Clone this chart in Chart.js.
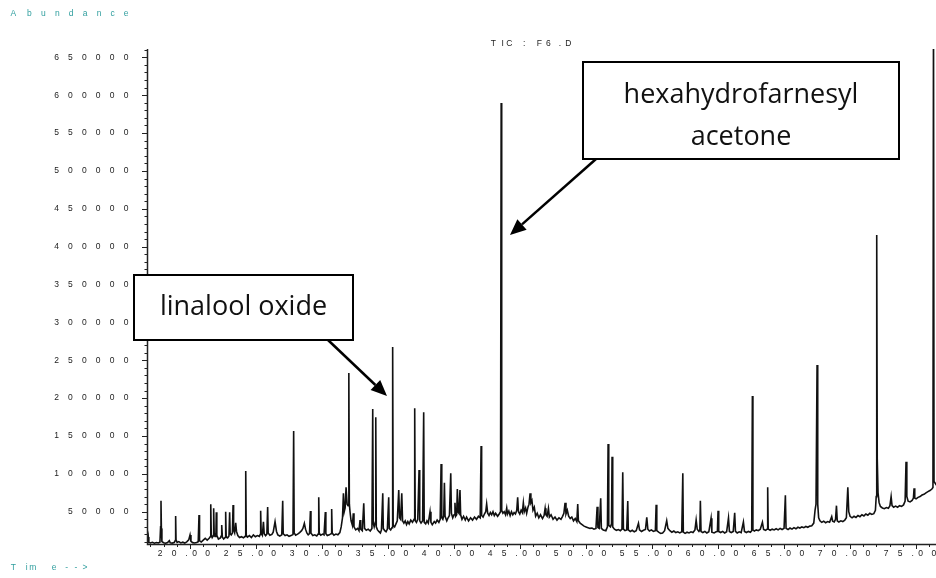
<!DOCTYPE html>
<html>
<head>
<meta charset="utf-8">
<title>TIC: F6.D</title>
<script src="https://cdn.jsdelivr.net/npm/chart.js@4.4.1/dist/chart.umd.min.js"></script>
<style>
  html, body { margin: 0; padding: 0; background: #fff; }
  #wrap { width: 936px; height: 578px; position: relative; }
</style>
</head>
<body>
<div id="wrap"><canvas id="ticChart" width="936" height="578"></canvas></div>
<script>
// Total ion chromatogram, [retention time (min), abundance]
var tic17to25 = [
  [16.74, 9000], [16.79, 10500], [16.84, 16600], [16.88, 9500], [17.0, 8800], [17.15, 9600], [17.3, 8500],
  [17.45, 9400], [17.6, 8700], [17.72, 9800], [17.77, 30000], [17.80, 64600], [17.83, 28000], [17.87, 10500],
  [18.0, 9000], [18.15, 8400], [18.3, 9300], [18.43, 11800], [18.5, 9000], [18.65, 8600], [18.8, 9400],
  [18.88, 12000], [18.91, 44400], [18.94, 13000], [19.02, 9500], [19.15, 10600], [19.3, 8800], [19.45, 9800],
  [19.6, 8600], [19.75, 10200], [19.9, 12800], [20.0, 19300], [20.07, 11000], [20.2, 9200], [20.35, 8700],
  [20.5, 9500], [20.62, 10500], [20.68, 45700], [20.72, 11500], [20.85, 10000], [21.0, 12500], [21.15, 14800],
  [21.3, 12600], [21.45, 15000], [21.53, 17000], [21.57, 59800], [21.61, 20000], [21.68, 16000], [21.75, 18000],
  [21.79, 54500], [21.83, 22000], [21.9, 17500], [21.96, 20000], [21.99, 49200], [22.03, 19000], [22.15, 14000],
  [22.3, 15500], [22.36, 18000], [22.40, 32500], [22.45, 16500], [22.55, 14000], [22.65, 16000], [22.70, 50000],
  [22.74, 17000], [22.85, 15500], [22.95, 18000], [23.0, 49200], [23.04, 21000], [23.12, 19500], [23.21, 22000],
  [23.26, 58900], [23.3, 26000], [23.38, 22000], [23.46, 35500], [23.52, 24000], [23.62, 18500], [23.75, 16000],
  [23.9, 17000], [24.05, 15500], [24.17, 17500], [24.22, 103800], [24.26, 19000], [24.35, 16500], [24.5, 18500],
  [24.65, 16000], [24.8, 19500], [24.95, 17000]
];

var tic25to35 = [
  [25.1, 18500], [25.25, 17500], [25.31, 20000], [25.35, 51400], [25.39, 22000], [25.48, 19000], [25.56, 36800],
  [25.62, 21000], [25.72, 18500], [25.82, 20500], [25.88, 56200], [25.92, 22000], [26.05, 19000], [26.2, 20000],
  [26.3, 23000], [26.44, 36800], [26.55, 24000], [26.65, 19500], [26.8, 18000], [26.95, 19500], [27.02, 64600],
  [27.06, 21000], [27.2, 18500], [27.35, 19500], [27.5, 17500], [27.65, 18500], [27.8, 20000], [27.85, 156600],
  [27.89, 22000], [28.0, 19000], [28.15, 20500], [28.3, 22500], [28.45, 25000], [28.55, 28000], [28.66, 34700],
  [28.75, 27000], [28.85, 22000], [28.95, 19500], [29.05, 21000], [29.12, 51000], [29.16, 22000], [29.3, 18500],
  [29.45, 19500], [29.6, 18000], [29.7, 20500], [29.75, 69000], [29.79, 21500], [29.9, 19000], [30.05, 20500],
  [30.15, 19500], [30.25, 49600], [30.29, 21000], [30.4, 18500], [30.55, 19500], [30.68, 21000], [30.73, 53600],
  [30.77, 22000], [30.9, 19000], [31.05, 20500], [31.2, 19500], [31.35, 22500], [31.45, 30000], [31.55, 42000],
  [31.62, 74300], [31.68, 50000], [31.75, 55000], [31.82, 82200], [31.9, 60000], [31.97, 58000], [32.02, 90000],
  [32.04, 233200], [32.07, 60000], [32.12, 50000], [32.2, 38000], [32.3, 32000], [32.37, 47900], [32.42, 30000],
  [32.55, 26000], [32.7, 28000], [32.8, 25000], [32.88, 39100], [32.93, 27000], [33.05, 25000], [33.16, 61100],
  [33.22, 28000], [33.35, 25500], [33.5, 27000], [33.65, 24500], [33.78, 28000], [33.84, 185600], [33.88, 35000],
  [33.95, 30000], [34.03, 36000], [34.07, 174600], [34.11, 30000], [34.2, 26000], [34.3, 24000], [34.42, 22000],
  [34.5, 26000], [34.60, 74300], [34.64, 28000], [34.75, 25000], [34.85, 23500], [34.95, 27000], [35.05, 69000],
  [35.09, 28000], [35.2, 26000], [35.3, 29000], [35.35, 267500], [35.39, 32000]
];

var tic35to50 = [
  [35.5, 30000], [35.6, 34000], [35.7, 38000], [35.81, 78700], [35.87, 42000], [35.95, 40000], [36.04, 74300],
  [36.1, 38000], [36.2, 35000], [36.3, 38000], [36.4, 33000], [36.5, 37000], [36.6, 34000], [36.72, 39000],
  [36.85, 36000], [36.97, 40000], [37.02, 186500], [37.06, 38000], [37.15, 36000], [37.25, 40000], [37.35, 105100],
  [37.4, 38000], [37.5, 35000], [37.62, 38000], [37.70, 181300], [37.74, 36000], [37.85, 34000], [37.95, 38000],
  [38.05, 35000], [38.18, 50000], [38.25, 36000], [38.35, 33000], [38.5, 37000], [38.6, 35000], [38.72, 39000],
  [38.85, 36000], [38.95, 40000], [39.02, 113000], [39.07, 42000], [39.15, 40000], [39.22, 45000], [39.27, 88300],
  [39.32, 44000], [39.45, 38000], [39.55, 42000], [39.65, 45000], [39.75, 100700], [39.8, 48000], [39.9, 42000],
  [40.0, 46000], [40.07, 61900], [40.12, 44000], [40.2, 46000], [40.25, 80000], [40.3, 50000], [40.37, 48000],
  [40.45, 78700], [40.5, 46000], [40.6, 40000], [40.72, 44000], [40.85, 39000], [40.95, 43000], [41.1, 38000],
  [41.25, 42000], [41.4, 39000], [41.55, 43000], [41.7, 40000], [41.85, 44000], [41.98, 42000], [42.05, 136800],
  [42.09, 45000], [42.2, 43000], [42.3, 47000], [42.4, 50000], [42.47, 60300], [42.55, 48000], [42.65, 45000],
  [42.75, 49000], [42.85, 46000], [42.95, 50000], [43.05, 45000], [43.15, 48000], [43.3, 44000], [43.42, 47000],
  [43.52, 50000], [43.57, 589600], [43.61, 52000], [43.7, 48000], [43.8, 50000], [43.9, 46000], [43.99, 55000],
  [44.05, 47000], [44.15, 51000], [44.25, 45000], [44.35, 50000], [44.45, 46000], [44.55, 49000], [44.65, 47000],
  [44.75, 52000], [44.82, 69000], [44.88, 50000], [44.98, 47000], [45.08, 52000], [45.17, 49000], [45.25, 62000],
  [45.32, 50000], [45.42, 55000], [45.5, 48000], [45.6, 56000], [45.68, 60000], [45.76, 74300], [45.82, 62000],
  [45.9, 65000], [45.98, 52000], [46.08, 56000], [46.18, 44000], [46.3, 48000], [46.42, 42000], [46.55, 46000],
  [46.7, 41000], [46.82, 45000], [46.9, 54500], [46.96, 46000], [47.05, 44000], [47.15, 54500], [47.22, 43000],
  [47.35, 46000], [47.5, 40000], [47.65, 43000], [47.8, 39000], [47.95, 42000], [48.1, 40000], [48.22, 44000],
  [48.32, 48000], [48.41, 61900], [48.48, 47000], [48.58, 52000], [48.68, 44000], [48.8, 41000], [48.92, 43000],
  [49.05, 38000], [49.18, 41000], [49.3, 37000], [49.37, 60200], [49.42, 38000], [49.55, 35000], [49.7, 33000],
  [49.85, 31000]
];

var tic50to65 = [
  [50.0, 30000], [50.15, 29000], [50.3, 28000], [50.45, 28500], [50.6, 27000], [50.75, 28000], [50.84, 56600],
  [50.9, 29000], [51.0, 28000], [51.11, 67700], [51.16, 28000], [51.3, 26000], [51.5, 25000], [51.62, 30000],
  [51.67, 139400], [51.72, 32000], [51.85, 30000], [51.93, 34000], [51.97, 122700], [52.02, 30000], [52.15, 27000],
  [52.3, 25500], [52.45, 26500], [52.6, 25000], [52.72, 27000], [52.78, 102000], [52.83, 27000], [52.95, 25000],
  [53.08, 26000], [53.16, 64200], [53.2, 26000], [53.35, 24000], [53.5, 25500], [53.65, 23500], [53.8, 25000],
  [53.97, 34700], [54.05, 26000], [54.2, 24000], [54.35, 25500], [54.5, 26500], [54.6, 42600], [54.68, 27000],
  [54.8, 24500], [54.95, 26000], [55.1, 24000], [55.25, 25000], [55.31, 59300], [55.36, 25000], [55.5, 23000],
  [55.65, 21500], [55.8, 22000], [55.95, 25000], [56.11, 38200], [56.2, 28000], [56.35, 25000], [56.5, 23000],
  [56.65, 24500], [56.8, 22500], [56.95, 23500], [57.1, 22000], [57.25, 23500], [57.33, 100700], [57.37, 23000],
  [57.5, 21500], [57.65, 23000], [57.8, 22000], [57.95, 23500], [58.1, 22500], [58.25, 26000], [58.34, 39100],
  [58.42, 27000], [58.55, 24000], [58.62, 26000], [58.66, 64600], [58.71, 24000], [58.85, 22500], [59.0, 24000],
  [59.15, 22000], [59.3, 23500], [59.47, 41300], [59.53, 23000], [59.7, 22000], [59.85, 23500], [59.95, 24000],
  [60.0, 51400], [60.05, 24000], [60.2, 22500], [60.35, 24000], [60.5, 22000], [60.65, 23500], [60.79, 41700],
  [60.86, 24000], [61.0, 22500], [61.15, 24000], [61.26, 48700], [61.32, 24000], [61.45, 22000], [61.6, 23500],
  [61.75, 22500], [61.92, 36400], [62.0, 24000], [62.15, 22500], [62.3, 24000], [62.45, 23000], [62.55, 25000],
  [62.6, 202800], [62.64, 26000], [62.75, 24500], [62.9, 26000], [63.05, 25000], [63.2, 27000], [63.36, 36000],
  [63.45, 26500], [63.6, 25500], [63.72, 27000], [63.76, 82300], [63.8, 27000], [63.95, 25500], [64.1, 27000],
  [64.25, 26000], [64.4, 27500], [64.55, 26000], [64.7, 28000], [64.85, 26500]
];

var tic65to77 = [
  [65.0, 28000], [65.1, 71700], [65.15, 28000], [65.3, 26500], [65.45, 28500], [65.6, 27000], [65.75, 29000],
  [65.9, 27500], [66.05, 29500], [66.2, 28500], [66.35, 30000], [66.5, 29000], [66.65, 30500], [66.8, 29500],
  [66.95, 31000], [67.1, 31500], [67.25, 35000], [67.35, 52300], [67.42, 60000], [67.5, 243700], [67.55, 60000],
  [67.62, 42000], [67.72, 38000], [67.85, 36000], [68.0, 37500], [68.15, 35500], [68.3, 37000], [68.45, 36000],
  [68.61, 43400], [68.68, 37500], [68.8, 36500], [68.9, 40000], [68.97, 58000], [69.03, 38000], [69.15, 36500],
  [69.3, 38000], [69.45, 37000], [69.6, 39000], [69.72, 42000], [69.83, 82300], [69.9, 50000], [70.0, 44000],
  [70.15, 42000], [70.3, 44000], [70.45, 42500], [70.6, 45000], [70.75, 43500], [70.9, 46000], [71.05, 44500],
  [71.2, 47000], [71.35, 45500], [71.5, 48000], [71.65, 46500], [71.8, 47500], [71.92, 52000], [71.98, 70000],
  [72.02, 415300], [72.06, 120000], [72.12, 75000], [72.2, 62000], [72.3, 57000], [72.45, 55000], [72.6, 54000],
  [72.75, 55500], [72.9, 54500], [73.02, 58000], [73.11, 69900], [73.18, 58000], [73.3, 56000], [73.45, 57500],
  [73.6, 56000], [73.75, 58000], [73.9, 57000], [74.05, 59000], [74.17, 64000], [74.24, 116100], [74.3, 70000],
  [74.4, 64000], [74.55, 63000], [74.7, 65000], [74.8, 68000], [74.85, 80900], [74.9, 68000], [75.0, 67000],
  [75.15, 69000], [75.3, 70000], [75.45, 72000], [75.6, 73000], [75.75, 75000], [75.9, 76500], [76.05, 78000],
  [76.2, 80000], [76.28, 82000], [76.32, 720000], [76.36, 90000], [76.55, 85000]
];

var ticPoints = tic17to25.concat(tic25to35, tic35to50, tic50to65, tic65to77);

var xTickValues = [20, 25, 30, 35, 40, 45, 50, 55, 60, 65, 70, 75];
var yTickValues = [50000, 100000, 150000, 200000, 250000, 300000, 350000, 400000, 450000,
                   500000, 550000, 600000, 650000];

var callouts = [
  { lines: ['linalool oxide'], box: [134, 275, 353, 340], baselines: [315], arrow: [328, 340, 387, 396] },
  { lines: ['hexahydrofarnesyl', 'acetone'], box: [583, 62, 899, 159], baselines: [103, 145], arrow: [596, 159, 510, 235] }
];

var smallFont = '8.5px "Liberation Sans", Arial, sans-serif';
var teal = '#2f9e9e';

// draws each character on its own at the given x centres
function spacedText(ctx, text, xs, y) {
  for (var i = 0; i < text.length; i++) {
    ctx.fillText(text[i], xs[i], y);
  }
}

function drawArrow(ctx, x1, y1, x2, y2) {
  var ang = Math.atan2(y2 - y1, x2 - x1);
  var head = 16, half = 7;
  var bx = x2 - head * Math.cos(ang), by = y2 - head * Math.sin(ang);
  ctx.lineWidth = 2.5;
  ctx.beginPath();
  ctx.moveTo(x1, y1);
  ctx.lineTo(bx, by);
  ctx.stroke();
  ctx.beginPath();
  ctx.moveTo(x2, y2);
  ctx.lineTo(bx + half * Math.sin(ang), by - half * Math.cos(ang));
  ctx.lineTo(bx - half * Math.sin(ang), by + half * Math.cos(ang));
  ctx.closePath();
  ctx.fill();
}

var chromatogramFrame = {
  id: 'chromatogramFrame',
  afterDraw: function (chart) {
    var ctx = chart.ctx;
    var xs = chart.scales.x, ys = chart.scales.y;
    var area = chart.chartArea;
    ctx.save();

    // axes
    ctx.strokeStyle = '#222';
    ctx.lineWidth = 1.5;
    ctx.beginPath();
    ctx.moveTo(area.left + 0.5, area.top);
    ctx.lineTo(area.left + 0.5, area.bottom + 0.5);
    ctx.lineTo(area.right, area.bottom + 0.5);
    ctx.stroke();

    // y ticks every 10000, long ones every 50000
    ctx.lineWidth = 1;
    ctx.beginPath();
    for (var v = 10000; v <= ys.max; v += 10000) {
      var py = Math.round(ys.getPixelForValue(v)) + 0.5;
      var len = v % 50000 === 0 ? 5 : 2.5;
      ctx.moveTo(area.left - len, py);
      ctx.lineTo(area.left + 1, py);
    }
    // x ticks every minute, long ones every 5 min
    for (var t = 17; t <= xs.max; t += 1) {
      var px = Math.round(xs.getPixelForValue(t)) + 0.5;
      var tl = t % 5 === 0 ? 5 : 3;
      ctx.moveTo(px, area.bottom);
      ctx.lineTo(px, area.bottom + tl);
    }
    ctx.stroke();

    ctx.font = smallFont;
    ctx.fillStyle = '#222';
    ctx.textAlign = 'center';
    ctx.textBaseline = 'middle';

    yTickValues.forEach(function (val) {
      var s = String(val);
      var py = ys.getPixelForValue(val);
      var pos = [];
      for (var i = 0; i < s.length; i++) pos.push(126 - (s.length - 1 - i) * 13.9);
      spacedText(ctx, s, pos, py);
    });

    var xOffsets = [-30, -16, -3.5, 4.5, 17.7];
    xTickValues.forEach(function (val) {
      var s = val.toFixed(2);
      var px = xs.getPixelForValue(val);
      spacedText(ctx, s, xOffsets.map(function (o) { return px + o; }), 553.5);
    });

    spacedText(ctx, 'TIC:F6.D', [493.3, 502.7, 509.3, 524.3, 539.3, 548.3, 560, 568.3], 44);

    ctx.fillStyle = teal;
    spacedText(ctx, 'Abundance', [13.3, 29.3, 43.3, 57.3, 71, 85, 99, 112.7, 126], 14);
    spacedText(ctx, 'Time-->', [13.3, 26.7, 32.7, 54, 66.7, 76, 85], 568);

    // callout boxes with arrows
    callouts.forEach(function (c) {
      var b = c.box;
      ctx.fillStyle = '#fff';
      ctx.fillRect(b[0], b[1], b[2] - b[0], b[3] - b[1]);
      ctx.strokeStyle = '#000';
      ctx.lineWidth = 2;
      ctx.strokeRect(b[0], b[1], b[2] - b[0], b[3] - b[1]);
      ctx.fillStyle = '#111';
      ctx.font = '27px "Open Sans", "Noto Sans", sans-serif';
      ctx.textAlign = 'center';
      ctx.textBaseline = 'alphabetic';
      c.lines.forEach(function (ln, i) {
        ctx.fillText(ln, (b[0] + b[2]) / 2, c.baselines[i]);
      });
      ctx.fillStyle = '#000';
      drawArrow(ctx, c.arrow[0], c.arrow[1], c.arrow[2], c.arrow[3]);
    });

    ctx.restore();
  }
};

new Chart(document.getElementById('ticChart'), {
  type: 'line',
  data: {
    datasets: [{
      label: 'TIC: F6.D',
      data: ticPoints.map(function (p) { return { x: p[0], y: p[1] }; }),
      borderColor: '#111',
      borderWidth: 1.6,
      pointRadius: 0,
      tension: 0
    }]
  },
  options: {
    responsive: false,
    animation: false,
    devicePixelRatio: 1,
    layout: { padding: { left: 147, right: 0, top: 49, bottom: 34 } },
    plugins: {
      legend: { display: false },
      tooltip: { enabled: false }
    },
    scales: {
      x: { type: 'linear', min: 16.74, max: 76.51, display: false },
      y: { min: 7400, max: 661000, display: false }
    }
  },
  plugins: [chromatogramFrame]
});
</script>
</body>
</html>
